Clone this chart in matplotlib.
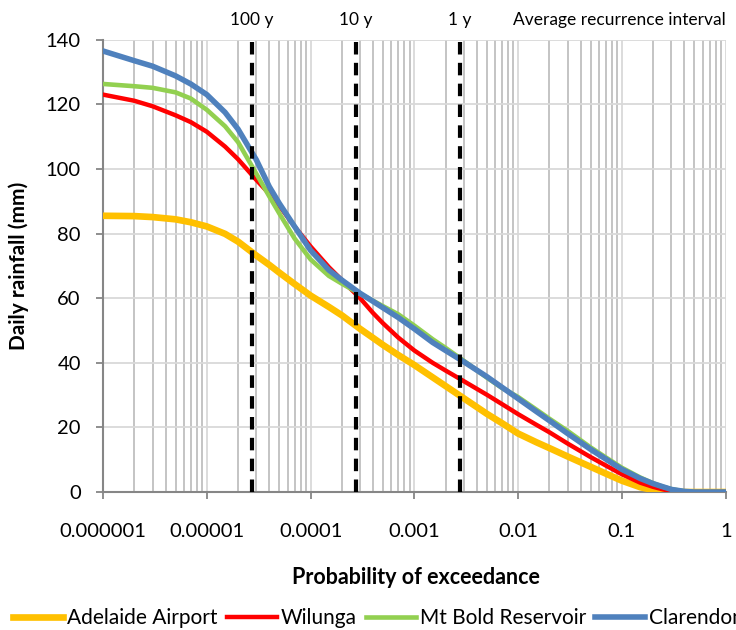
import numpy as np
import matplotlib.pyplot as plt
from matplotlib.ticker import FixedLocator, NullFormatter, LogLocator

plt.rcParams['font.family'] = ['Lato', 'DejaVu Sans']

# probability of exceedance (daily)
prob = [1e-6, 2e-6, 3e-6, 5e-6, 7e-6, 1e-5, 1.5e-5, 2e-5, 3e-5, 4e-5, 5e-5, 7e-5,
        1e-4, 1.5e-4, 2e-4, 3e-4, 4e-4, 5e-4, 7e-4, 1e-3, 1.5e-3, 2e-3, 3e-3,
        5e-3, 7e-3, 1e-2, 1.5e-2, 2e-2, 3e-2, 5e-2, 7e-2, 0.1, 0.15, 0.2, 0.25,
        0.3, 0.4, 0.5, 1.0]

adelaide = [85.5, 85.4, 85.1, 84.4, 83.5, 82.2, 79.9, 77.5, 73.2, 70.3, 67.9, 64.4,
            60.8, 57.3, 54.7, 50.5, 47.7, 45.5, 42.4, 39.3, 35.5, 32.8, 29.0,
            24.2, 21.3, 18.1, 15.4, 13.6, 11.0, 7.8, 5.7, 3.5, 1.5, 0.6, 0.1,
            0.0, 0.0, 0.0, 0.0]
wilunga = [123.0, 121.1, 119.4, 116.6, 114.5, 111.5, 106.9, 103.0, 96.6, 92.3, 88.6, 82.2,
           76.0, 69.6, 65.6, 60.0, 55.4, 52.2, 47.8, 43.8, 40.0, 37.6, 34.3,
           30.1, 27.2, 24.1, 20.8, 18.5, 15.0, 10.8, 8.2, 5.5, 2.9, 1.6, 0.8,
           0.3, 0.0, 0.0, 0.0]
mt_bold = [126.3, 125.6, 125.1, 123.7, 121.8, 118.3, 113.2, 108.3, 98.5, 91.5, 86.2, 78.5,
           72.0, 66.9, 64.5, 61.3, 59.2, 57.5, 55.0, 51.5, 47.3, 44.6, 40.6,
           35.4, 32.2, 29.4, 25.5, 22.7, 18.9, 13.8, 10.7, 7.5, 4.5, 2.7, 1.6,
           0.9, 0.2, 0.0, 0.0]
clarendon = [136.5, 133.5, 131.8, 128.8, 126.3, 123.0, 117.5, 112.3, 102.8, 94.5, 89.3, 82.2,
             74.8, 68.7, 65.6, 61.5, 59.0, 57.0, 54.0, 50.5, 46.3, 43.8, 40.3,
             35.7, 32.4, 28.9, 24.9, 22.1, 18.1, 13.2, 10.2, 7.0, 4.2, 2.6, 1.6,
             0.8, 0.2, 0.0, 0.0]

series = [("Adelaide Airport", adelaide, "#FFC000", 4.8),
          ("Wilunga", wilunga, "#FF0000", 3.2),
          ("Mt Bold Reservoir", mt_bold, "#92D050", 3.3),
          ("Clarendon", clarendon, "#4F81BD", 4.0)]

# average recurrence intervals (years) -> daily probability
ari_years = [100, 10, 1]
ari_labels = ["100 y", "10 y", "1 y"]
ari_prob = [1 / (365.25 * y) for y in ari_years]

xticks = [1e-6, 1e-5, 1e-4, 1e-3, 1e-2, 1e-1, 1]
xticklabels = ["0.000001", "0.00001", "0.0001", "0.001", "0.01", "0.1", "1"]

fig = plt.figure(figsize=(7.36, 6.3), dpi=100)
ax = fig.add_axes([0.140, 0.219, 0.846, 0.718])

for name, vals, col, lw in series:
    ax.plot(prob, vals, color=col, lw=lw, label=name, solid_joinstyle='round', zorder=3)

for p in ari_prob:
    ax.axvline(p, color='black', lw=3, ls=(0, (3, 2)), zorder=4)

ax.set_xscale('log')
ax.set_xlim(1e-6, 1)
ax.set_ylim(0, 140)
ax.set_yticks(range(0, 141, 20))
ax.xaxis.set_major_locator(FixedLocator(xticks))
ax.set_xticklabels(xticklabels)
ax.xaxis.set_minor_locator(LogLocator(base=10, subs=np.arange(2, 10)))
ax.xaxis.set_minor_formatter(NullFormatter())

ax.grid(True, which='major', axis='both', color='#d9d9d9', lw=1.3, zorder=0)
ax.grid(True, which='minor', axis='x', color='#bfbfbf', lw=1.3, zorder=0)
ax.set_axisbelow(True)

for s in ['top', 'right']:
    ax.spines[s].set_visible(False)
for s in ['left', 'bottom']:
    ax.spines[s].set_color('#868686')
    ax.spines[s].set_linewidth(1.5)

ax.tick_params(axis='both', which='major', length=5, width=1.3, color='#868686',
               labelsize=14.5, labelcolor='black')
ax.tick_params(axis='x', which='major', pad=17)
ax.tick_params(axis='y', which='major', pad=11)
ax.tick_params(axis='x', which='minor', length=0)

fig.text(416 / 736, 1 - 578 / 630, "Probability of exceedance", fontsize=15.5,
         fontweight='bold', ha='center', va='center')
fig.text(19 / 736, 1 - 266 / 630, "Daily rainfall (mm)", fontsize=15,
         fontweight='bold', ha='center', va='center', rotation=90)

tr = ax.get_xaxis_transform()
for p, lab in zip(ari_prob, ari_labels):
    ax.text(p, 1.044, lab, transform=tr, ha='center', va='center', fontsize=12.5)
ax.text(1.0, 1.044, "Average recurrence interval", transform=tr, ha='right',
        va='center', fontsize=12.5)

fig.legend(loc='center left', bbox_to_anchor=(13 / 736, 1 - 618 / 630), ncol=4,
           frameon=False, fontsize=15, handlelength=2.4, handletextpad=0.2,
           columnspacing=0.43, borderpad=0, borderaxespad=0)

fig.savefig("out.png", dpi=100, facecolor='white')
